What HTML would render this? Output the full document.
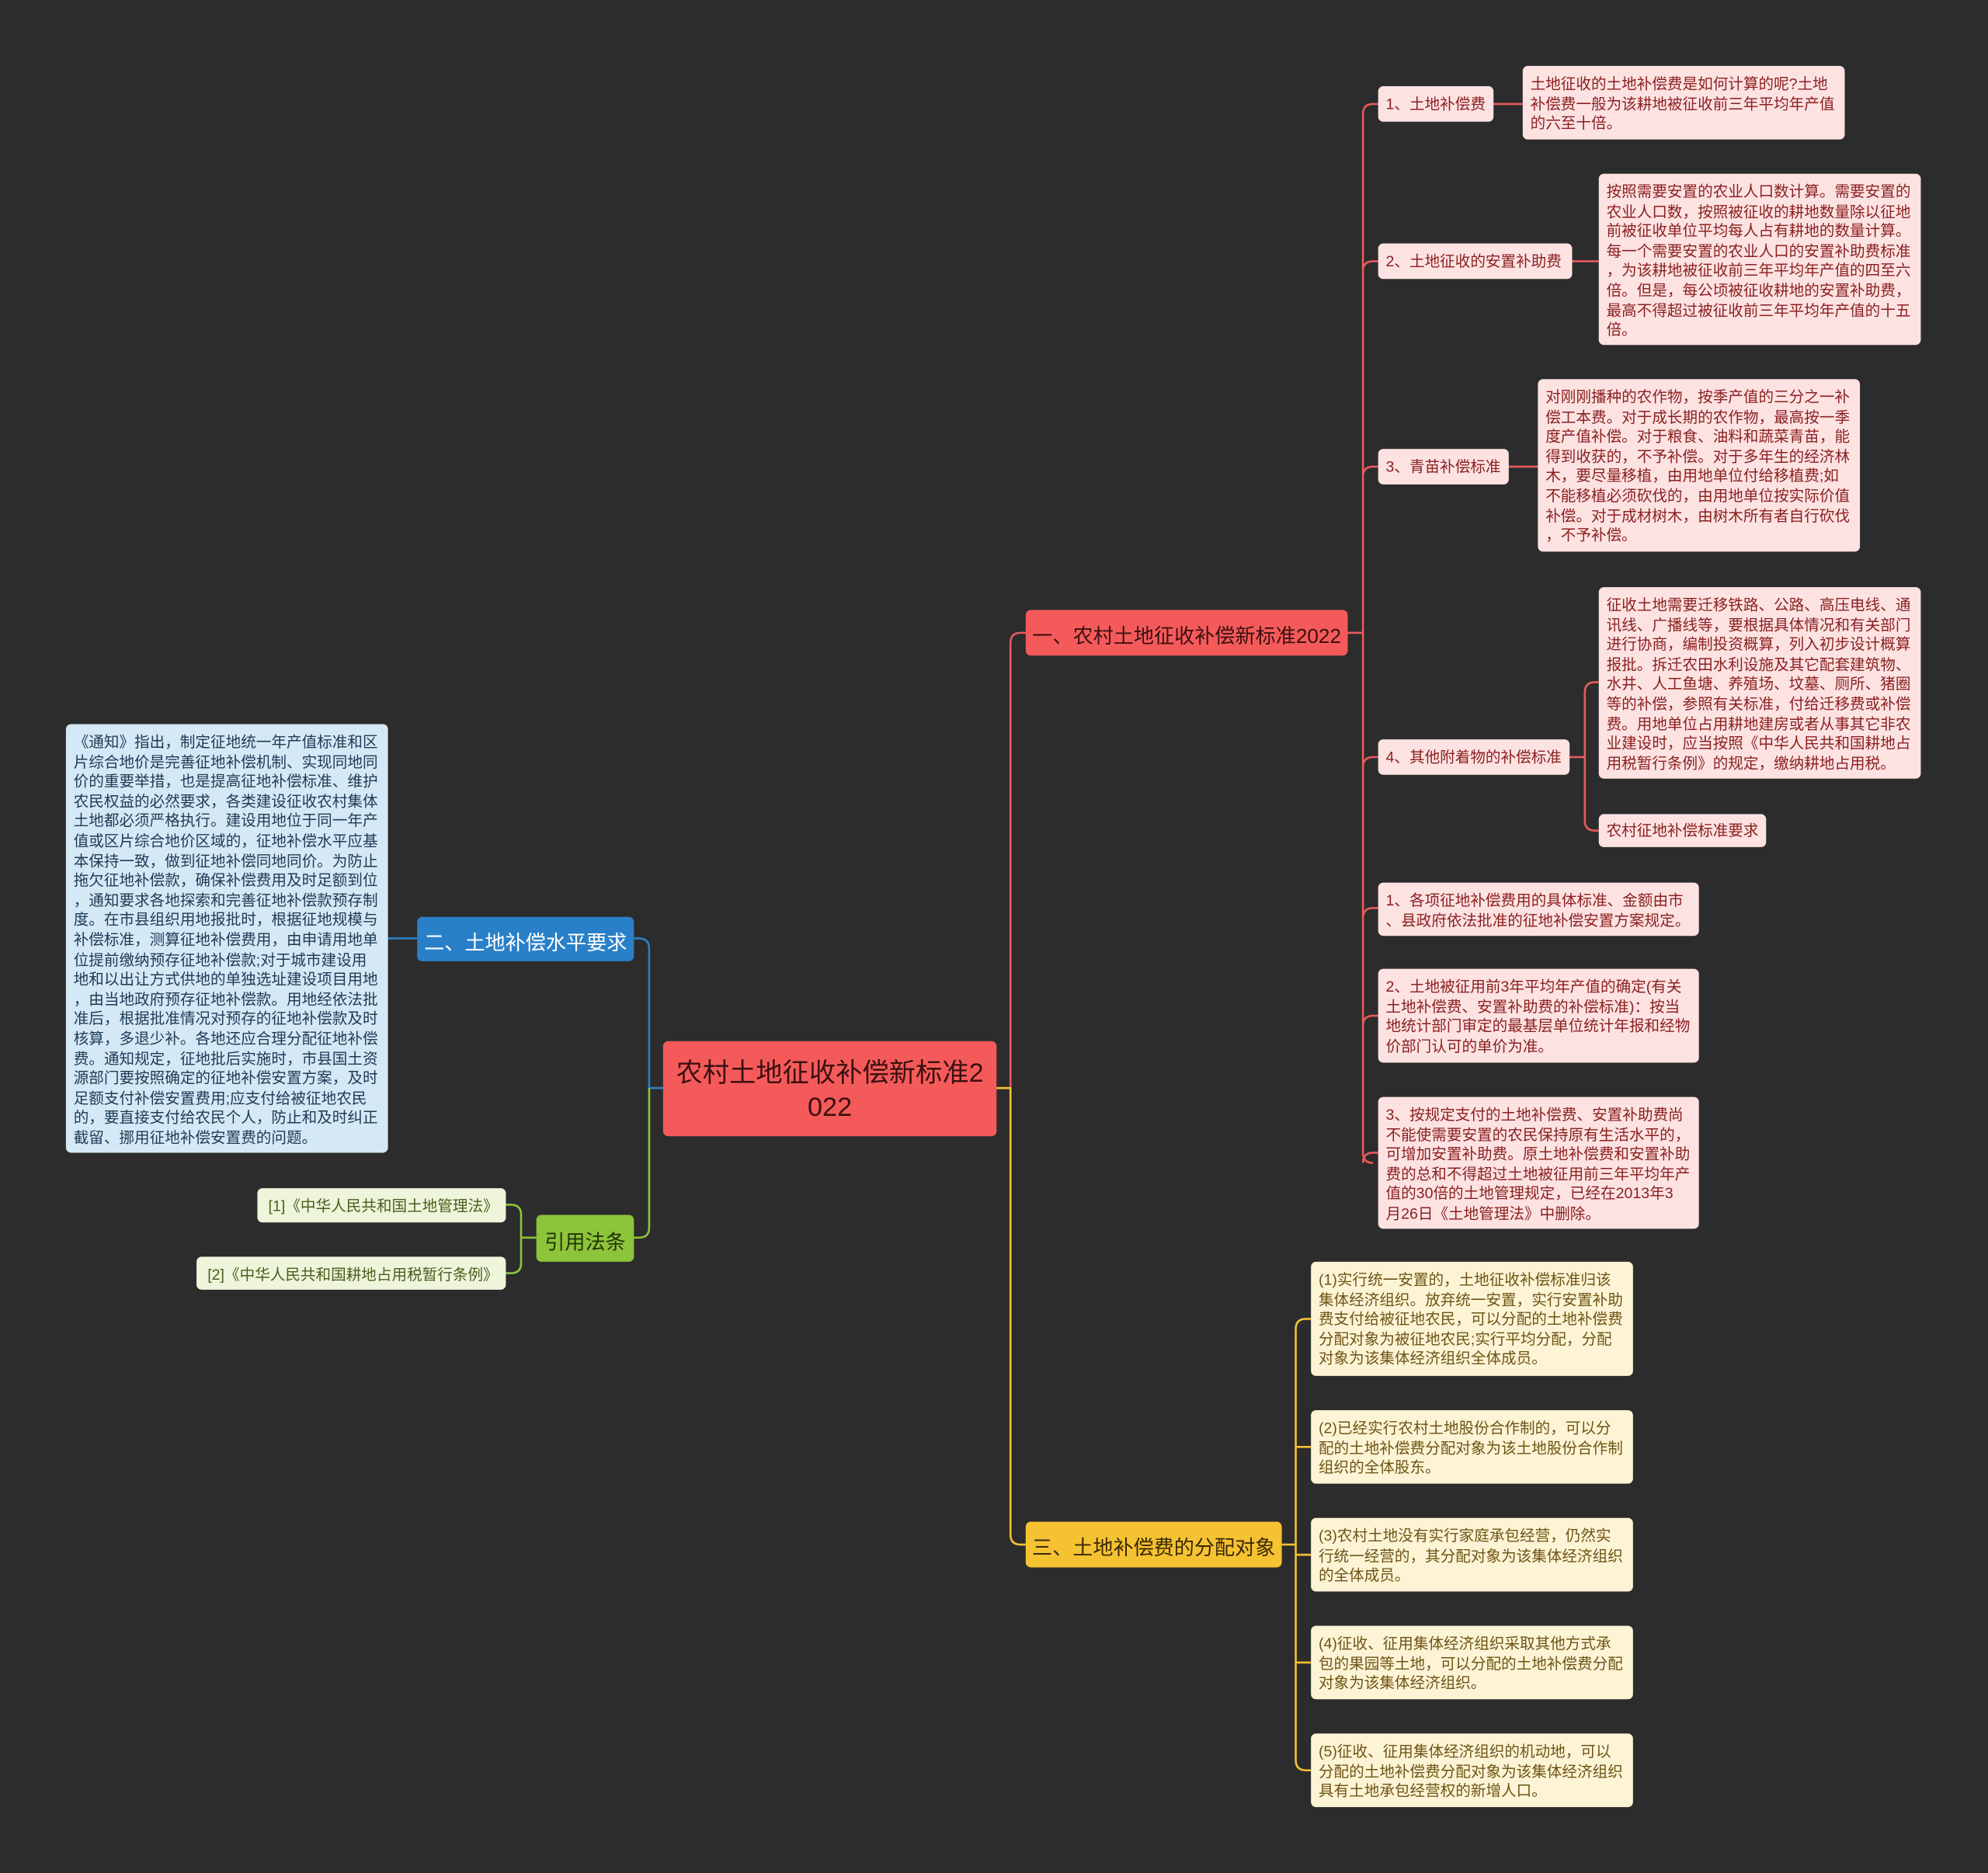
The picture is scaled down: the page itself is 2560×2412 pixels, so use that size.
<!DOCTYPE html>
<html><head><meta charset="utf-8"><style>
html,body{margin:0;padding:0;background:#2c2c2c;}
#w{position:absolute;left:0;top:0;width:1568px;height:1477px;transform:scale(1.63265,1.63306);transform-origin:0 0;background:#2c2c2c;overflow:hidden;font-family:"Liberation Sans","Noto Sans CJK SC",sans-serif;}
.n{position:absolute;box-sizing:border-box;border-radius:4px;white-space:nowrap;}
.p{background:#fde2e2;color:#8a1f1f;font-size:12px;line-height:15.6px;padding:7px 6px 5px;}
.y{background:#fdf4d6;color:#6e5414;font-size:12px;line-height:15.6px;padding:7px 6px 5px;}
.b{background:#d5e8f5;color:#1d3b55;font-size:12px;line-height:15.6px;padding:7px 6px 5px;}
.g{background:#eef5db;color:#4a5e1c;font-size:12px;line-height:28px;padding:0 6px;text-align:right;}
.s{display:flex;align-items:center;padding-top:2px;padding-bottom:0;}
svg{position:absolute;left:0;top:0;}
</style></head><body><div id="w">
<svg width="1568" height="1477" fill="none" stroke-width="1.6">
<g stroke="#e85a5a">
<path d="M786 858 H797 V507 Q797 499 805 499 H809"/>
<path d="M1063 499 H1075"/>
<path d="M1075 90 Q1075 82 1083 82 H1087 M1075 214 Q1075 206 1083 206 H1087 M1075 376 Q1075 368 1083 368 H1087 M1075 605 Q1075 597 1083 597 H1087 M1075 724 Q1075 716 1083 716 H1087 M1075 809 Q1075 801 1083 801 H1087 M1075 917 Q1075 909 1083 909 H1087 M1075 90 V909 Q1075 917 1083 917"/>
<path d="M1178 82 H1201 M1240 206 H1261 M1190 368 H1213 M1238 597 H1250 M1250 546 Q1250 538 1258 538 H1261 M1250 546 V647 Q1250 655 1258 655 H1261"/>
</g>
<g stroke="#f2c232">
<path d="M512 858 H797 V1210 Q797 1218 805 1218 H809"/>
<path d="M1011 1218 H1022 M1022 1048 Q1022 1040 1030 1040 H1034 M1022 1048 V1388 Q1022 1396 1030 1396 H1034 M1022 1141 H1034 M1022 1226 H1034 M1022 1311 H1034"/>
</g>
<path stroke="#2a80c8" d="M523 858 H512 V748 Q512 740 504 740 H500 M329 740 H306"/>
<path stroke="#8cc43a" d="M512 858 V968 Q512 976 504 976 H500 M423 976 H411 M411 958 Q411 950 403 950 H399 M411 958 V996 Q411 1004 403 1004 H399"/>
</svg>
<div class="n s" style="left:523px;top:821px;width:263px;height:75px;background:#f55a5a;color:#3a1010;font-size:21px;line-height:27px;justify-content:center;text-align:center;">农村土地征收补偿新标准2<br>022</div>
<div class="n s" style="left:809px;top:481px;width:254px;height:36px;background:#f55a5a;color:#3a1010;font-size:16px;justify-content:center;">一、农村土地征收补偿新标准2022</div>
<div class="n s" style="left:329px;top:723px;width:171px;height:35px;background:#2a80c8;color:#fff;font-size:16px;justify-content:center;">二、土地补偿水平要求</div>
<div class="n s" style="left:809px;top:1200px;width:202px;height:36px;background:#f5c232;color:#3a2a05;font-size:16px;justify-content:center;">三、土地补偿费的分配对象</div>
<div class="n s" style="left:423px;top:958px;width:77px;height:37px;background:#8cc43a;color:#233308;font-size:16px;justify-content:center;">引用法条</div>

<div class="n p s" style="left:1087px;top:68px;width:91px;height:28px;">1、土地补偿费</div>
<div class="n p" style="left:1201px;top:52px;width:254px;height:58px;">土地征收的土地补偿费是如何计算的呢?土地<br>补偿费一般为该耕地被征收前三年平均年产值<br>的六至十倍。</div>
<div class="n p s" style="left:1087px;top:192px;width:153px;height:28px;">2、土地征收的安置补助费</div>
<div class="n p" style="left:1261px;top:137px;width:254px;height:135px;">按照需要安置的农业人口数计算。需要安置的<br>农业人口数，按照被征收的耕地数量除以征地<br>前被征收单位平均每人占有耕地的数量计算。<br>每一个需要安置的农业人口的安置补助费标准<br>，为该耕地被征收前三年平均年产值的四至六<br>倍。但是，每公顷被征收耕地的安置补助费，<br>最高不得超过被征收前三年平均年产值的十五<br>倍。</div>
<div class="n p s" style="left:1087px;top:354px;width:103px;height:28px;">3、青苗补偿标准</div>
<div class="n p" style="left:1213px;top:299px;width:254px;height:136px;">对刚刚播种的农作物，按季产值的三分之一补<br>偿工本费。对于成长期的农作物，最高按一季<br>度产值补偿。对于粮食、油料和蔬菜青苗，能<br>得到收获的，不予补偿。对于多年生的经济林<br>木，要尽量移植，由用地单位付给移植费;如<br>不能移植必须砍伐的，由用地单位按实际价值<br>补偿。对于成材树木，由树木所有者自行砍伐<br>，不予补偿。</div>
<div class="n p s" style="left:1087px;top:583px;width:151px;height:28px;">4、其他附着物的补偿标准</div>
<div class="n p" style="left:1261px;top:463px;width:254px;height:151px;">征收土地需要迁移铁路、公路、高压电线、通<br>讯线、广播线等，要根据具体情况和有关部门<br>进行协商，编制投资概算，列入初步设计概算<br>报批。拆迁农田水利设施及其它配套建筑物、<br>水井、人工鱼塘、养殖场、坟墓、厕所、猪圈<br>等的补偿，参照有关标准，付给迁移费或补偿<br>费。用地单位占用耕地建房或者从事其它非农<br>业建设时，应当按照《中华人民共和国耕地占<br>用税暂行条例》的规定，缴纳耕地占用税。</div>
<div class="n p s" style="left:1261px;top:642px;width:132px;height:26px;">农村征地补偿标准要求</div>
<div class="n p" style="left:1087px;top:696px;width:253px;height:42px;">1、各项征地补偿费用的具体标准、金额由市<br>、县政府依法批准的征地补偿安置方案规定。</div>
<div class="n p" style="left:1087px;top:764px;width:253px;height:74px;">2、土地被征用前3年平均年产值的确定(有关<br>土地补偿费、安置补助费的补偿标准)：按当<br>地统计部门审定的最基层单位统计年报和经物<br>价部门认可的单价为准。</div>
<div class="n p" style="left:1087px;top:865px;width:253px;height:104px;">3、按规定支付的土地补偿费、安置补助费尚<br>不能使需要安置的农民保持原有生活水平的，<br>可增加安置补助费。原土地补偿费和安置补助<br>费的总和不得超过土地被征用前三年平均年产<br>值的30倍的土地管理规定，已经在2013年3<br>月26日《土地管理法》中删除。</div>

<div class="n y" style="left:1034px;top:995px;width:254px;height:90px;">(1)实行统一安置的，土地征收补偿标准归该<br>集体经济组织。放弃统一安置，实行安置补助<br>费支付给被征地农民，可以分配的土地补偿费<br>分配对象为被征地农民;实行平均分配，分配<br>对象为该集体经济组织全体成员。</div>
<div class="n y" style="left:1034px;top:1112px;width:254px;height:58px;">(2)已经实行农村土地股份合作制的，可以分<br>配的土地补偿费分配对象为该土地股份合作制<br>组织的全体股东。</div>
<div class="n y" style="left:1034px;top:1197px;width:254px;height:58px;">(3)农村土地没有实行家庭承包经营，仍然实<br>行统一经营的，其分配对象为该集体经济组织<br>的全体成员。</div>
<div class="n y" style="left:1034px;top:1282px;width:254px;height:58px;">(4)征收、征用集体经济组织采取其他方式承<br>包的果园等土地，可以分配的土地补偿费分配<br>对象为该集体经济组织。</div>
<div class="n y" style="left:1034px;top:1367px;width:254px;height:58px;">(5)征收、征用集体经济组织的机动地，可以<br>分配的土地补偿费分配对象为该集体经济组织<br>具有土地承包经营权的新增人口。</div>

<div class="n b" style="left:52px;top:571px;width:254px;height:338px;">《通知》指出，制定征地统一年产值标准和区<br>片综合地价是完善征地补偿机制、实现同地同<br>价的重要举措，也是提高征地补偿标准、维护<br>农民权益的必然要求，各类建设征收农村集体<br>土地都必须严格执行。建设用地位于同一年产<br>值或区片综合地价区域的，征地补偿水平应基<br>本保持一致，做到征地补偿同地同价。为防止<br>拖欠征地补偿款，确保补偿费用及时足额到位<br>，通知要求各地探索和完善征地补偿款预存制<br>度。在市县组织用地报批时，根据征地规模与<br>补偿标准，测算征地补偿费用，由申请用地单<br>位提前缴纳预存征地补偿款;对于城市建设用<br>地和以出让方式供地的单独选址建设项目用地<br>，由当地政府预存征地补偿款。用地经依法批<br>准后，根据批准情况对预存的征地补偿款及时<br>核算，多退少补。各地还应合理分配征地补偿<br>费。通知规定，征地批后实施时，市县国土资<br>源部门要按照确定的征地补偿安置方案，及时<br>足额支付补偿安置费用;应支付给被征地农民<br>的，要直接支付给农民个人，防止和及时纠正<br>截留、挪用征地补偿安置费的问题。</div>
<div class="n g" style="left:203px;top:937px;width:196px;height:27px;">[1]《中华人民共和国土地管理法》</div>
<div class="n g" style="left:155px;top:991px;width:244px;height:26px;">[2]《中华人民共和国耕地占用税暂行条例》</div>
</div></body></html>
